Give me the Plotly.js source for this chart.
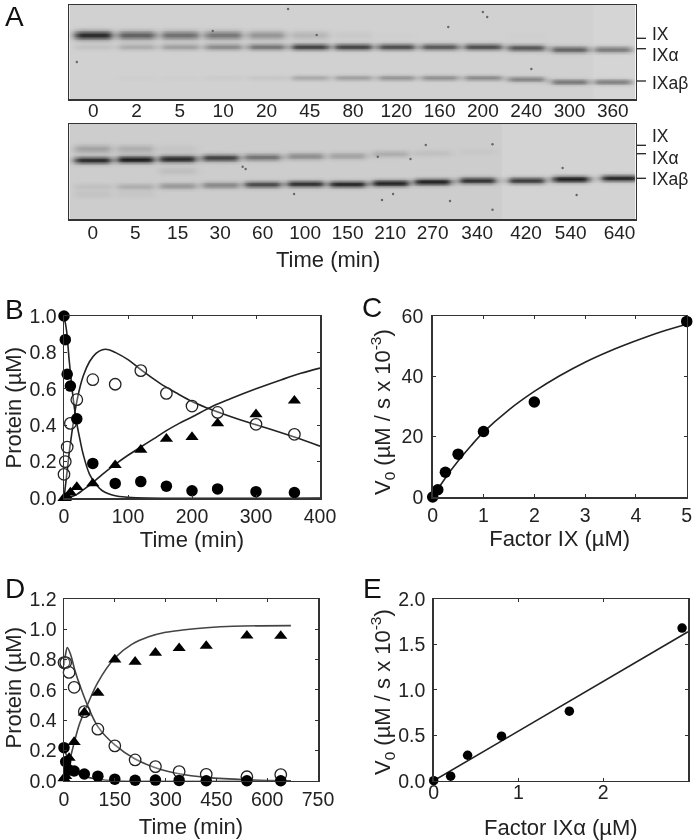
<!DOCTYPE html>
<html><head><meta charset="utf-8">
<script src="https://cdn.plot.ly/plotly-3.0.1.min.js"></script>
<style>html,body{margin:0;padding:0;background:#fff;overflow:hidden}#g{width:693px;height:840px;filter:blur(0.4px)}</style>
</head><body><div id="g"></div>
<script>
// ---------- Gels: lane labels, band position (migration) and band darkness per lane
const gel1Labels = ['0','2','5','10','20','45','80','120','160','200','240','300','360'];
const gel1Lanes = [0,1,2,3,4,5,6,7,8,9,10,11,12];
const gel1IXPos  = [30,30,30,30,30,30,30,30,30,30,30,30,30];
const gel1IX     = [165,110,95,88,58,26,8,2,0,0,2,0,0];
const gel1APos   = [41.7,41.7,41.7,41.7,41.7,41.7,41.7,41.7,41.7,41.7,42.7,44.3,44.3];
const gel1A      = [14,35,48,68,88,140,138,128,118,128,120,108,88];
const gel1BPos   = [72.7,72.7,72.7,72.7,72.7,72.7,72.7,72.7,72.7,72.7,74,76.7,76.7];
const gel1B      = [0,3,3,6,10,38,48,58,62,68,75,90,85];
const gel1SpeckX = [9.0,9.1,10.12,4.5,-0.38,2.76,5.16,8.2];
const gel1SpeckY = [7,12,64,4,57,26,30,22];

const gel2Labels = ['0','5','15','30','60','100','150','210','270','340','420','540','640'];
const gel2Lanes = [0,1,2,3,4,5,6,7,8,9.05,10.2,11.25,12.4];
const gel2IXPos  = [24.7,24.7,24.7,24.7,24.7,24.7,24.7,24.7,24.7,24.7,24.7,24.7,24.7];
const gel2IX     = [42,30,8,0,0,0,0,0,0,0,0,0,0];
const gel2APos   = [36,35.3,34.7,33.7,33,32,31.7,29.7,29,27.3,27,27,27];
const gel2A      = [158,172,162,138,88,62,42,30,12,5,0,0,0];
const gel2BPos   = [62.3,62.3,61.7,61,60.3,59.7,60,59,57.7,56.3,56.3,55,54];
const gel2B      = [12,30,52,68,128,152,162,168,168,152,148,178,168];
const gel2FaintLane = [0,1,2];
const gel2FaintPos  = [70,70,46.7];
const gel2Faint     = [10,7,14];
const gel2SpeckX = [4.74,3.53,3.6,7.07,7.84,9.41,8.41,7.48,6.71,6.81,11.06,11.39,9.41];
const gel2SpeckY = [70,42.7,45,70,21,20.3,77,35,32.7,76,44,71,85.7];

// ---------- Panel B
const bTime   = [0,2,5,10,20,45,80,120,160,200,240,300,360];
const bIX     = [1.0,0.87,0.68,0.615,0.435,0.19,0.08,0.09,0.065,0.04,0.05,0.035,0.03];
const bIXa    = [0.13,0.2,0.28,0.41,0.54,0.65,0.625,0.70,0.575,0.505,0.47,0.405,0.35];
const bIXab   = [0,0,0.005,0.03,0.06,0.08,0.18,0.265,0.325,0.335,0.41,0.46,0.535];
const bFitIXt = [0,4,8,12,16,20,25,30,40,50,60,80,100,130,400];
const bFitIX  = [1,0.92,0.76,0.62,0.5,0.41,0.32,0.24,0.13,0.075,0.04,0.012,0.004,0,0];
const bFitAt  = [0,5,10,20,30,40,50,60,70,80,100,120,150,175,200,225,250,275,300,330,360,400];
const bFitA   = [0,0.15,0.3,0.53,0.67,0.75,0.795,0.815,0.815,0.80,0.76,0.705,0.63,0.578,0.53,0.493,0.46,0.43,0.403,0.37,0.335,0.285];
const bFitBt  = [0,10,20,30,45,60,80,100,120,140,160,180,200,233,260,300,340,370,400];
const bFitB   = [0,0.005,0.02,0.045,0.085,0.13,0.185,0.235,0.28,0.325,0.37,0.41,0.445,0.505,0.545,0.60,0.65,0.685,0.714];

// ---------- Panel C
const cConc = [0,0.1,0.25,0.5,1,2,5];
const cV0   = [0,2.4,8.2,14.2,21.7,31.5,58.2];
const cFitX = [0,0.25,0.5,0.75,1,1.5,2,2.5,3,3.5,4,4.5,5];
const cFitY = [0,6.3,11.9,16.9,21.5,28.9,35,40.2,44.7,48.5,51.8,54.8,57.3];

// ---------- Panel D
const dTime  = [0,5,15,30,60,100,150,210,270,340,420,540,640];
const dIX    = [0.218,0.125,0.07,0.064,0.044,0.03,0.01,0.003,0.004,0.002,0,0,0];
const dIXa   = [0.78,0.78,0.715,0.617,0.456,0.34,0.23,0.137,0.093,0.06,0.042,0.026,0.04];
const dIXab  = [0.015,0.03,0.15,0.255,0.45,0.58,0.80,0.785,0.845,0.875,0.89,0.958,0.956];
const dFitAt = [0,5,10,20,32,50,69,100,150,210,270,340,420,540,670];
const dFitA  = [0.76,0.84,0.88,0.83,0.73,0.61,0.50,0.357,0.236,0.143,0.086,0.046,0.022,0.006,0];
const dFitBt = [0,15,30,45,69,100,150,200,250,300,350,420,500,670];
const dFitB  = [0,0.12,0.25,0.37,0.50,0.65,0.81,0.90,0.95,0.98,0.995,1.01,1.02,1.024];
const dFitIt = [0,10,20,40,60,100,150,670];
const dFitI  = [0.22,0.15,0.10,0.05,0.03,0.01,0,0];

// ---------- Panel E
const eConc = [0,0.2,0.4,0.8,1.6,2.93];
const eV0   = [0,0.05,0.28,0.49,0.765,1.68];
const eFitX = [0,3];
const eFitY = [0,1.64];

// ---------- Rendering helpers
const W = 693, H = 840;
const fx = p => p / W, fy = p => 1 - p / H;
const FONT = 'Liberation Sans, Arial, sans-serif';
const INK = '#222';

function gelMatrix(bands, xr, height, bgBreak, bgL, bgR) {
  const xs = [], ys = [], z = [];
  for (let x = xr[0]; x <= xr[1]; x += 0.05) xs.push(x);
  for (let y = 0; y <= height; y += 0.75) ys.push(y);
  ys.forEach(y => {
    z.push(xs.map(x => {
      let v = x > bgBreak ? bgR : bgL;
      bands.forEach(b => {
        b.lanes.forEach((l, i) => {
          const dx = (x - l) / 0.42, dy = (y - b.pos[i]) / b.s;
          v -= b.d[i] * Math.exp(-dy * dy) / (1 + Math.pow(dx, 8));
        });
      });
      return Math.max(v, 0);
    }));
  });
  return {type:'heatmap', x:xs, y:ys, z:z, zmin:0, zmax:255, zsmooth:'best', showscale:false,
          colorscale:[[0,'#000'],[1,'#fff']], hoverinfo:'skip'};
}

const xr1 = [-0.554,12.53], xr2 = [-0.55,12.78];
const gelH1 = 94.3, gelH2 = 95.3;
const heat1 = gelMatrix([
  {lanes:gel1Lanes,pos:gel1IXPos,d:gel1IX,s:4.4},
  {lanes:gel1Lanes,pos:gel1APos,d:gel1A,s:3.3},
  {lanes:gel1Lanes,pos:gel1BPos,d:gel1B,s:2.8}], xr1, gelH1, 11.5, 209, 213);
heat1.xaxis='x'; heat1.yaxis='y';
const heat2 = gelMatrix([
  {lanes:gel2Lanes,pos:gel2IXPos,d:gel2IX,s:4.2},
  {lanes:gel2Lanes,pos:gel2APos,d:gel2A,s:3.5},
  {lanes:gel2Lanes,pos:gel2BPos,d:gel2B,s:3.3},
  {lanes:gel2FaintLane,pos:gel2FaintPos,d:gel2Faint,s:4}], xr2, gelH2, 9.65, 205, 211);
heat2.xaxis='x2'; heat2.yaxis='y2';

const speck = (x,y,xa,ya) => ({type:'scatter',mode:'markers',x:x,y:y,xaxis:xa,yaxis:ya,
  marker:{size:2.4,color:'#666'},hoverinfo:'skip',showlegend:false});
const curve = (x,y,xa,ya,c) => ({type:'scatter',mode:'lines',x:x,y:y,xaxis:xa,yaxis:ya,
  line:{color:c||INK,width:1.6,shape:'spline',smoothing:1},hoverinfo:'skip',showlegend:false});
const pts = (x,y,xa,ya,kind,size) => {
  const m = {size:size,color:'#000'};
  if (kind==='open') { m.color='#fff'; m.line={color:'#222',width:1.3}; m.symbol='circle'; }
  else if (kind==='tri') { m.symbol='triangle-up'; }
  else m.symbol='circle';
  return {type:'scatter',mode:'markers',x:x,y:y,xaxis:xa,yaxis:ya,marker:m,cliponaxis:false,showlegend:false};
};
const openPts = (x,y,xa,ya,size) => {
  const t = pts(x,y,xa,ya,'open',size);
  t.marker.color='rgba(255,255,255,0.25)';
  return t;
};

const traces = [
  heat1, heat2,
  speck(gel1SpeckX,gel1SpeckY,'x','y'), speck(gel2SpeckX,gel2SpeckY,'x2','y2'),
  curve(bFitIXt,bFitIX,'x3','y3'), curve(bFitAt,bFitA,'x3','y3'), curve(bFitBt,bFitB,'x3','y3'),
  openPts(bTime,bIXa,'x3','y3',11.5), pts(bTime,bIX,'x3','y3','fill',11.5), pts(bTime,bIXab,'x3','y3','tri',11.5),
  curve(cFitX,cFitY,'x4','y4'), pts(cConc,cV0,'x4','y4','fill',11.5),
  curve(dFitAt,dFitA,'x5','y5','#444'), curve(dFitBt,dFitB,'x5','y5','#444'), curve(dFitIt,dFitI,'x5','y5','#444'),
  openPts(dTime,dIXa,'x5','y5',11.5), pts(dTime,dIX,'x5','y5','fill',11.5), pts(dTime,dIXab,'x5','y5','tri',11.5),
  curve(eFitX,eFitY,'x6','y6'), pts(eConc,eV0,'x6','y6','fill',9.5)
];

const base = {showgrid:false,zeroline:false,showline:true,mirror:'ticks',linecolor:'#333',linewidth:1.5,
  ticks:'inside',ticklen:3,tickcolor:'#333',tickwidth:1,
  tickfont:{family:FONT,size:19.5,color:INK},fixedrange:true};
const titleFont = {family:FONT,size:22,color:INK};

function dataAxis(dom, range, dtick, fmt, title, standoff, letter, tso) {
  const a = Object.assign({}, base, {domain:dom, range:range, tick0:0, dtick:dtick, anchor:letter});
  if (title) a.title = {text:title, font:titleFont, standoff:standoff};
  if (fmt) a.tickformat = fmt;
  if (tso) a.ticklabelstandoff = tso;
  return a;
}
function gelX(dom, range, lanes, labels, anchor, tso) {
  return Object.assign({}, base, {domain:dom, range:range, anchor:anchor, tickmode:'array', tickvals:lanes, ticktext:labels, ticks:'',
    tickfont:{family:FONT,size:19,color:INK}, mirror:true, ticklabelstandoff:tso});
}
function gelY(dom, h, anchor) {
  return Object.assign({}, base, {domain:dom, range:[h,0], anchor:anchor, ticks:'', showticklabels:false, mirror:true});
}

const V0 = 'V<sub>0</sub> (µM / s x 10<sup>-3</sup>)';
const layout = {
  width:W, height:H, margin:{l:0,r:0,t:0,b:0}, paper_bgcolor:'#fff', plot_bgcolor:'#fff', showlegend:false,
  font:{family:FONT,color:INK},
  xaxis: gelX([fx(69.3),fx(635.7)], xr1, gel1Lanes, gel1Labels, 'y', -7),
  yaxis: gelY([fy(99.3),fy(5)], gelH1, 'x'),
  xaxis2: gelX([fx(69.3),fx(635.7)], xr2, gel2Lanes, gel2Labels, 'y2', -5),
  yaxis2: gelY([fy(219.3),fy(124)], gelH2, 'x2'),
  xaxis3: dataAxis([fx(64),fx(320)],[0,400],100,null,'Time (min)',3,'y3'),
  yaxis3: dataAxis([fy(498),fy(316)],[0,1],0.2,'.1f',null,0,'x3',2),
  xaxis4: dataAxis([fx(432.7),fx(686.7)],[0,5],1,null,'Factor IX (µM)',3,'y4'),
  yaxis4: dataAxis([fy(497),fy(316)],[0,60],20,null,null,0,'x4',4),
  xaxis5: dataAxis([fx(64),fx(318)],[0,750],150,null,'Time (min)',10,'y5'),
  yaxis5: dataAxis([fy(780.7),fy(599)],[0,1.2],0.2,'.1f',null,0,'x5',2),
  xaxis6: dataAxis([fx(433.7),fx(688)],[0,3],1,null,'Factor IXα (µM)',19,'y6',-7),
  yaxis6: dataAxis([fy(780.7),fy(599)],[0,2],0.5,'.1f',null,0,'x6',3),
  shapes: [38.3,48.7,81,145.3,153.7,178.3].map(s => ({type:'line',xref:'paper',yref:'paper',
    x0:fx(637),x1:fx(646),y0:fy(s),y1:fy(s),line:{color:'#222',width:1.3}})),
  annotations: [
    ...[['IX',34],['IXα',55],['IXaβ',83],['IX',136.5],['IXα',157.5],['IXaβ',178.7]].map(a => ({text:a[0],xref:'paper',yref:'paper',
      x:fx(650),y:fy(a[1]),xanchor:'left',yanchor:'middle',showarrow:false,font:{family:FONT,size:17.5,color:INK}})),
    ...[['A',3,16],['B',3,309],['C',360,307],['D',3,588],['E',361,588]].map(a => ({text:a[0],xref:'paper',yref:'paper',
      x:fx(a[1]),y:fy(a[2]),xanchor:'left',yanchor:'middle',showarrow:false,font:{family:FONT,size:28,color:'#111'}})),
    {text:'Time (min)',xref:'paper',yref:'paper',x:fx(328),y:fy(259.5),xanchor:'center',yanchor:'middle',showarrow:false,font:titleFont},
    ...[['Protein (µM)',12.5,408],[V0,382,412],['Protein (µM)',12.5,688],[V0,382,692]].map(a => ({text:a[0],xref:'paper',yref:'paper',
      x:fx(a[1]),y:fy(a[2]),xanchor:'center',yanchor:'middle',textangle:-90,showarrow:false,font:titleFont}))
  ]
};
Plotly.newPlot('g', traces, layout, {staticPlot:true, displayModeBar:false});
</script></body></html>
